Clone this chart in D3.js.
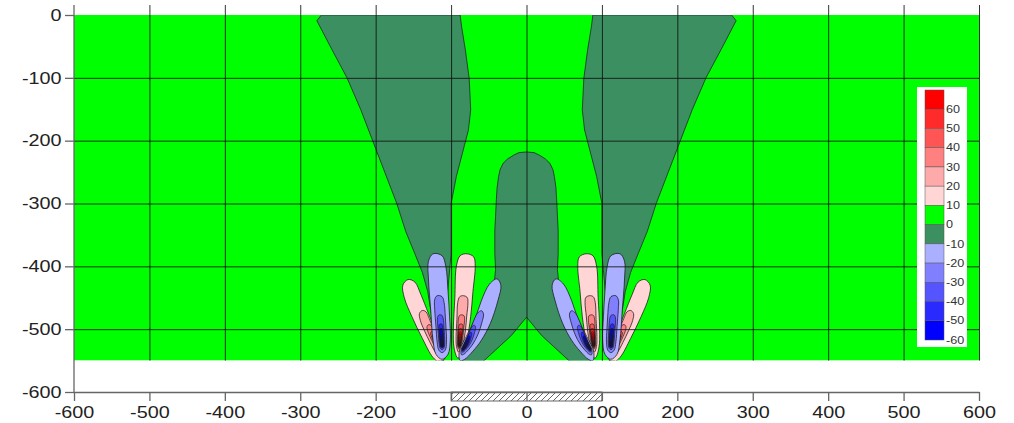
<!DOCTYPE html>
<html>
<head>
<meta charset="utf-8">
<script src="https://cdn.jsdelivr.net/npm/d3@7"></script>
<style>
body { margin: 0; background: #fff; }
svg { display: block; font-family: "Liberation Sans", Arial, sans-serif; }
</style>
</head>
<body>
<svg id="chart" width="1014" height="423"></svg>
<script>
// axes
var xTicks = [-600, -500, -400, -300, -200, -100, 0, 100, 200, 300, 400, 500, 600]
var yTicks = [0, -100, -200, -300, -400, -500, -600]
var fieldBottom = -550
var footing = [-100, 100]

// legend (contour levels, top to bottom)
var legendLevels = [60, 50, 40, 30, 20, 10, 0, -10, -20, -30, -40, -50, -60]

// -10..0 regions, left half (right half is the mirror image)
var wedgeLeft = [[-88, 0], [-272, 0], [-278, -9], [-258, -55], [-238, -100], [-220, -150], [-204, -200],
    [-188, -250], [-172, -300], [-160, -345], [-148, -380], [-138, -410], [-131, -440], [-127, -470],
    [-123, -500], [-119, -530], [-116, -552], [-110, -552], [-107, -480], [-103, -420], [-100, -380],
    [-100, -300], [-98, -288], [-93, -257], [-85, -220], [-77, -183], [-74, -151], [-76, -101],
    [-81, -56], [-86, -19]]
var domeHalf = [[0, -218], [-10, -219], [-17, -223], [-25, -229], [-31, -236], [-35, -246], [-37, -257],
    [-39, -275], [-40, -294], [-41, -320], [-42, -342], [-42, -380], [-41, -405], [-44, -440],
    [-54, -480], [-67, -515], [-79, -540], [-86, -552], [-58, -552], [-20, -510], [0, -481]]

// stress lobes of the left cluster, outer contour (+10 or -10); right cluster is its mirror
var lobeA = [[-157, -421], [-148, -425], [-140, -445], [-130, -475], [-120, -505], [-112, -530], [-108, -546],
    [-116, -552], [-124, -545], [-138, -515], [-152, -480], [-162, -450], [-164, -430]]
var lobeB = [[-124, -380], [-112, -383], [-107, -400], [-104, -440], [-102, -480], [-101, -517], [-104, -540],
    [-112, -548], [-120, -540], [-124, -517], [-127, -470], [-130, -420], [-130, -392]]
var lobeC = [[-79, -380], [-70, -385], [-68, -400], [-71, -440], [-74, -480], [-79, -517], [-85, -540],
    [-91, -546], [-96, -530], [-97, -500], [-95, -450], [-93, -400], [-88, -383]]
var lobeD = [[-39, -420], [-34, -430], [-38, -455], [-48, -491], [-60, -518], [-71, -535], [-82, -548],
    [-88, -550], [-89, -535], [-80, -512], [-68, -483], [-60, -455], [-49, -428]]
var lobeSigns = [1, -1, 1, -1]
var lobeFoci = [[-116, -528], [-112, -525], [-89, -525], [-84, -530]]
// relative size of the nested contours 10, 20, 30 ... toward the focus
var nestScale = [1, 0.54, 0.33, 0.23, 0.18, 0.145, 0.12, 0.1, 0.082, 0.066, 0.052, 0.04, 0.029, 0.019]

var posColors = ["#ffd5d5", "#ffaaaa", "#ff8080", "#ff5555", "#ff2a2a", "#ff0000"]
var negColors = ["#aab0ff", "#8080ff", "#5555ff", "#2a2aff", "#0000ff"]
var legendColors = ["#ff0000", "#ff2a2a", "#ff5555", "#ff8080", "#ffaaaa", "#ffd5d5", "#00ff00",
    "#3c8f60", "#aab0ff", "#8080ff", "#5555ff", "#2a2aff", "#0000ff"]

var stretch = "scale(1.2,1)"

var x = d3.scaleLinear().domain([-600, 600]).range([74, 979])
var y = d3.scaleLinear().domain([0, -600]).range([15, 392])

var svg = d3.select("#chart")
var mirror = p => [-p[0], p[1]]

var poly = d3.line().x(d => x(d[0])).y(d => y(d[1]))
var smooth = d3.line().x(d => x(d[0])).y(d => y(d[1])).curve(d3.curveCatmullRomClosed.alpha(0.5))

svg.append("defs").append("clipPath").attr("id", "field")
    .append("rect")
    .attr("x", x(-600)).attr("y", y(0))
    .attr("width", x(600) - x(-600)).attr("height", y(fieldBottom) - y(0))

var pat = svg.select("defs").append("pattern").attr("id", "hatch")
    .attr("patternUnits", "userSpaceOnUse").attr("width", 6).attr("height", 6)
pat.append("path").attr("d", "M-1,1 l2,-2 M0,6 l6,-6 M5,7 l2,-2")
    .attr("stroke", "#666").attr("stroke-width", 1)

var field = svg.append("g").attr("clip-path", "url(#field)")

field.append("rect")
    .attr("x", x(-600)).attr("y", y(0))
    .attr("width", x(600) - x(-600)).attr("height", y(fieldBottom) - y(0))
    .attr("fill", "#00ff00")

var centre = domeHalf.concat(domeHalf.slice(1, -1).reverse().map(mirror))
field.selectAll("path.neg10")
    .data([wedgeLeft, wedgeLeft.map(mirror), centre])
    .enter().append("path")
    .attr("class", "neg10")
    .attr("d", d => poly(d) + "Z")
    .attr("fill", "#3c8f60")
    .attr("stroke", "#1d3d26")
    .attr("stroke-width", 0.9)

// nested contours of each lobe
var lobes = []
;[lobeA, lobeB, lobeC, lobeD].forEach((pts, i) => {
    lobes.push({pts: pts, sign: lobeSigns[i], focus: lobeFoci[i]})
    lobes.push({pts: pts.map(mirror), sign: lobeSigns[i], focus: mirror(lobeFoci[i])})
})

lobes.forEach(l => {
    nestScale.forEach((s, k) => {
        var pts = l.pts.map(p => [l.focus[0] + s * (p[0] - l.focus[0]), l.focus[1] + s * (p[1] - l.focus[1])])
        var fill = l.sign > 0 ? posColors[Math.min(k, posColors.length - 1)] : negColors[Math.min(k, negColors.length - 1)]
        field.append("path")
            .attr("d", smooth(pts))
            .attr("fill", fill)
            .attr("stroke", "#1a1a1a")
            .attr("stroke-opacity", 0.85)
            .attr("stroke-width", k < 2 ? 0.9 : 0.8)
    })
})

// grid
var grid = svg.append("g").attr("stroke", "#111").attr("stroke-opacity", 0.85).attr("stroke-width", 1)
grid.selectAll("line.v")
    .data(xTicks.filter(d => d > -600))
    .enter().append("line")
    .attr("x1", d => x(d) + 0.5).attr("x2", d => x(d) + 0.5)
    .attr("y1", y(0) - 10).attr("y2", y(fieldBottom))
grid.selectAll("line.h")
    .data(yTicks.filter(d => d < 0 && d > fieldBottom))
    .enter().append("line")
    .attr("x1", x(-600)).attr("x2", x(600))
    .attr("y1", d => y(d) + 0.5).attr("y2", d => y(d) + 0.5)

// footing
svg.append("rect")
    .attr("x", x(footing[0])).attr("y", y(-600))
    .attr("width", x(footing[1]) - x(footing[0])).attr("height", 9)
    .attr("fill", "url(#hatch)")
    .attr("stroke", "#666").attr("stroke-width", 1)

// axes
var fmt = d => String(d)
var gx = svg.append("g").attr("transform", `translate(0,${y(-600)})`)
    .call(d3.axisBottom(x).tickValues(xTicks).tickFormat(fmt).tickSize(9).tickPadding(5).tickSizeOuter(0))
var gy = svg.append("g").attr("transform", `translate(${x(-600)},0)`)
    .call(d3.axisLeft(y).tickValues(yTicks).tickFormat(fmt).tickSize(9).tickPadding(0).tickSizeOuter(0))

gy.select(".domain").attr("d", `M0,${y(0) - 10}V${y(-600)}`)
;[gx, gy].forEach(g => {
    g.select(".domain").attr("stroke", "#666").attr("stroke-width", 1.3)
    g.selectAll(".tick line").attr("stroke", "#666").attr("stroke-width", 1.3)
    g.selectAll(".tick text")
        .attr("fill", "#222")
        .attr("font-size", 16.5)
        .attr("font-family", "Liberation Sans, Arial, sans-serif")
        .attr("transform", stretch)
})
gy.selectAll(".tick text").attr("x", -12.4 / 1.2)

// legend
var lg = svg.append("g")
lg.append("rect").attr("x", 917).attr("y", 87).attr("width", 50).attr("height", 260).attr("fill", "#fff")
var band = d3.scaleLinear().domain([0, legendColors.length]).range([90, 340])
lg.selectAll("rect.sw")
    .data(legendColors)
    .enter().append("rect")
    .attr("x", 925).attr("width", 19)
    .attr("y", (d, i) => band(i)).attr("height", (d, i) => band(i + 1) - band(i))
    .attr("fill", d => d)
    .attr("stroke", "#555").attr("stroke-width", 0.5)
lg.selectAll("text")
    .data(legendLevels)
    .enter().append("text")
    .attr("transform", (d, i) => `translate(946,${band(i + 1)}) ${stretch}`)
    .attr("dy", "0.35em")
    .attr("font-size", 10.5)
    .attr("fill", "#333")
    .text(d => d)
</script>
</body>
</html>
